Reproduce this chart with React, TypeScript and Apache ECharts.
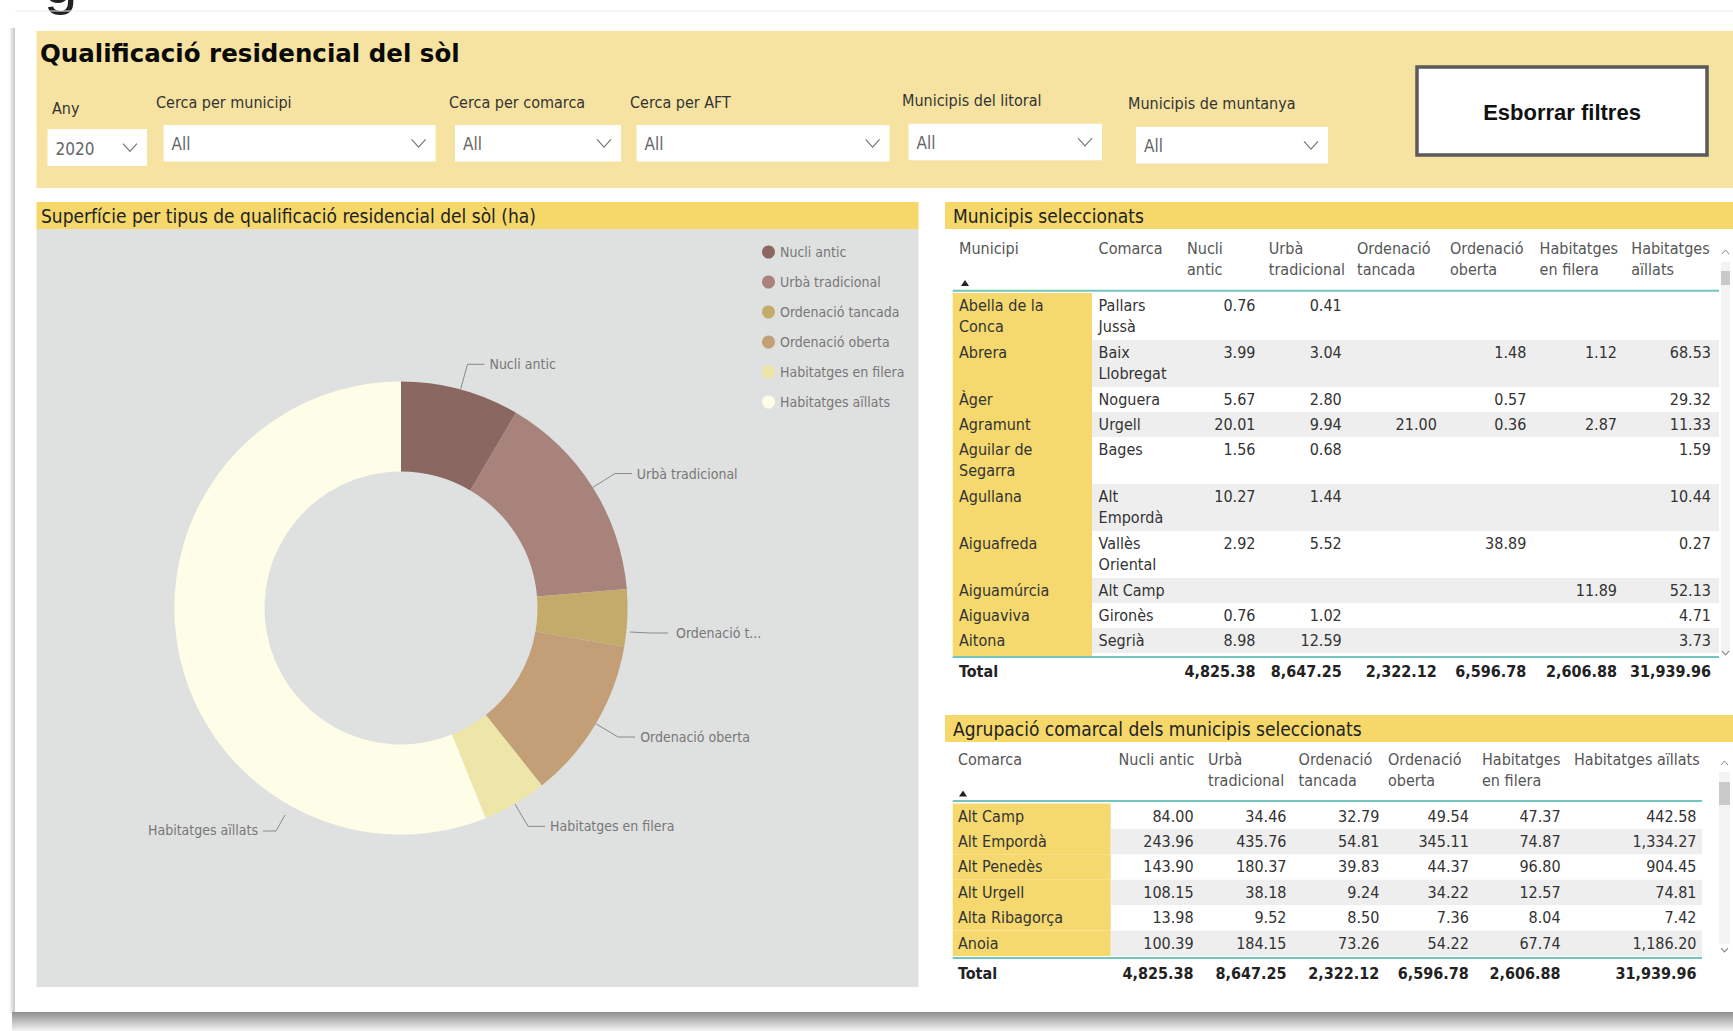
import React, { useEffect, useRef } from 'react';
import * as echarts from 'echarts';

// ---------------- DATA ----------------
const categories = ['Nucli antic', 'Urbà tradicional', 'Ordenació tancada', 'Ordenació oberta', 'Habitatges en filera', 'Habitatges aïllats'];
const totals = [4825.38, 8647.25, 2322.12, 6596.78, 2606.88, 31939.96];
const pieLabels = ['Nucli antic', 'Urbà tradicional', 'Ordenació t...', 'Ordenació oberta', 'Habitatges en filera', 'Habitatges aïllats'];
const sliceColors = ['#8A6861', '#A8837B', '#C4AB6B', '#C29F76', '#EEE5A8', '#FEFDE8'];

const municipis = ['Abella de la Conca', 'Abrera', 'Àger', 'Agramunt', 'Aguilar de Segarra', 'Agullana', 'Aiguafreda', 'Aiguamúrcia', 'Aiguaviva', 'Aitona'];
const municipiComarca = ['Pallars Jussà', 'Baix Llobregat', 'Noguera', 'Urgell', 'Bages', 'Alt Empordà', 'Vallès Oriental', 'Alt Camp', 'Gironès', 'Segrià'];
const munNucli = [0.76, 3.99, 5.67, 20.01, 1.56, 10.27, 2.92, null, 0.76, 8.98];
const munUrba = [0.41, 3.04, 2.80, 9.94, 0.68, 1.44, 5.52, null, 1.02, 12.59];
const munTancada = [null, null, null, 21.00, null, null, null, null, null, null];
const munOberta = [null, 1.48, 0.57, 0.36, null, null, 38.89, null, null, null];
const munFilera = [null, 1.12, null, 2.87, null, null, null, 11.89, null, null];
const munAillats = [null, 68.53, 29.32, 11.33, 1.59, 10.44, 0.27, 52.13, 4.71, 3.73];

const comarques = ['Alt Camp', 'Alt Empordà', 'Alt Penedès', 'Alt Urgell', 'Alta Ribagorça', 'Anoia'];
const comNucli = [84.00, 243.96, 143.90, 108.15, 13.98, 100.39];
const comUrba = [34.46, 435.76, 180.37, 38.18, 9.52, 184.15];
const comTancada = [32.79, 54.81, 39.83, 9.24, 8.50, 73.26];
const comOberta = [49.54, 345.11, 44.37, 34.22, 7.36, 54.22];
const comFilera = [47.37, 74.87, 96.80, 12.57, 8.04, 67.74];
const comAillats = [442.58, 1334.27, 904.45, 74.81, 7.42, 1186.20];

const filterLabels = ['Any', 'Cerca per municipi', 'Cerca per comarca', 'Cerca per AFT', 'Municipis del litoral', 'Municipis de muntanya'];
const filterValues = ['2020', 'All', 'All', 'All', 'All', 'All'];

const dashboardTitle = 'Qualificació residencial del sòl';
const buttonLabel = 'Esborrar filtres';
const pieTitle = 'Superfície per tipus de qualificació residencial del sòl (ha)';
const table1Title = 'Municipis seleccionats';
const table2Title = 'Agrupació comarcal dels municipis seleccionats';
const table1Heads = ['Municipi', 'Comarca'];
const table2Heads = ['Comarca'];
const totalLabel = 'Total';

// ---------------- STYLE ----------------
const FF = '"Liberation Sans Narrow","DejaVu Sans Condensed","Roboto Condensed",Roboto,sans-serif';
const FB = '"Liberation Sans",Arial,sans-serif';
const FH = '"DejaVu Sans",Verdana,sans-serif';
const HEADER_BG = '#F6E3A1';
const TITLE_BG = '#F5D869';
const FIRSTCOL = '#F5D96E';
const PANEL_GRAY = '#DFE1E0';
const ROW_GRAY = '#EEEEEE';
const TEAL = '#72C6BE';

const fmt = (v: number | null) =>
  v == null ? '' : v.toLocaleString('en-US', { minimumFractionDigits: 2, maximumFractionDigits: 2 });

let measureCtx: CanvasRenderingContext2D | null = null;
function wrap(t: string, maxW: number, size: number, weight = 'normal'): string[] {
  if (!measureCtx) measureCtx = document.createElement('canvas').getContext('2d');
  const ctx = measureCtx!;
  ctx.font = `${weight} ${size}px ${FF}`;
  const words = t.split(' ');
  const lines: string[] = [];
  let cur = '';
  for (const w of words) {
    const test = cur ? cur + ' ' + w : w;
    if (cur && ctx.measureText(test).width > maxW) {
      lines.push(cur);
      cur = w;
    } else cur = test;
  }
  if (cur) lines.push(cur);
  return lines;
}

const rect = (x: number, y: number, w: number, h: number, style: any) => ({
  type: 'rect', silent: true, shape: { x, y, width: w, height: h }, style,
});
const txt = (x: number, y: number, t: string, o: any = {}) => ({
  type: 'text', silent: true, x, y,
  style: {
    text: t, fill: o.fill || '#333', fontSize: o.size || 16, fontFamily: o.ff || FF,
    fontWeight: o.weight || 'normal', align: o.align || 'left', verticalAlign: o.va || 'middle',
  },
});
const ln = (x1: number, y1: number, x2: number, y2: number, stroke: string, lineWidth: number) => ({
  type: 'line', silent: true, shape: { x1, y1, x2, y2 }, style: { stroke, lineWidth },
});
const chevDown = (x: number, y: number, s = 7, c = '#777') => ({
  type: 'polyline', silent: true, shape: { points: [[x - s, y - s * 0.55], [x, y + s * 0.55], [x + s, y - s * 0.55]] },
  style: { stroke: c, lineWidth: 1.2, fill: 'none' },
});
const chevUp = (x: number, y: number, s = 3.5, c = '#888') => ({
  type: 'polyline', silent: true, shape: { points: [[x - s, y + s * 0.6], [x, y - s * 0.6], [x + s, y + s * 0.6]] },
  style: { stroke: c, lineWidth: 1, fill: 'none' },
});
const sortTri = (x: number, y: number) => ({
  type: 'polygon', silent: true, shape: { points: [[x - 4, y + 3], [x, y - 3], [x + 4, y + 3]] }, style: { fill: '#222' },
});

function buildGraphics() {
  const g: any[] = [];
  // page decorations
  g.push(txt(44, 12, 'g', { size: 60, ff: FB, fill: '#222', va: 'bottom' }));
  g.push(ln(15, 11, 1733, 11, '#EEEEEE', 1));
  g.push(rect(9, 28, 6, 985, { fill: new echarts.graphic.LinearGradient(0, 0, 1, 0, [{ offset: 0, color: '#ffffff' }, { offset: 1, color: '#C4C4C4' }]) }));
  g.push(rect(12, 1012, 1721, 19, { fill: new echarts.graphic.LinearGradient(0, 0, 0, 1, [{ offset: 0, color: '#8E8E8E' }, { offset: 1, color: '#F4F4F4' }]) }));

  // header band
  g.push(rect(36.5, 31, 1696.5, 157, { fill: HEADER_BG }));
  g.push(txt(40, 53, dashboardTitle, { size: 24.5, weight: 'bold', ff: FH, fill: '#0A0A0A' }));
  const F = [
    { lx: 52, ly: 108, bx: 47.5, by: 129, bw: 99.5, bh: 37 },
    { lx: 156, ly: 102, bx: 163.6, by: 125, bw: 272, bh: 36.5 },
    { lx: 449, ly: 102, bx: 455, by: 125, bw: 166, bh: 36.5 },
    { lx: 630, ly: 102, bx: 636.6, by: 125, bw: 253, bh: 36.5 },
    { lx: 902, ly: 100.6, bx: 908.5, by: 123.8, bw: 193.5, bh: 36.5 },
    { lx: 1128, ly: 103, bx: 1136, by: 127, bw: 192, bh: 36.5 },
  ];
  F.forEach((f, i) => {
    g.push(txt(f.lx, f.ly, filterLabels[i], { size: 16, fill: '#333' }));
    g.push(rect(f.bx, f.by, f.bw, f.bh, { fill: '#ffffff' }));
    g.push(txt(f.bx + 8, f.by + f.bh / 2 + 1, filterValues[i], { size: 17, fill: '#666' }));
    g.push(chevDown(f.bx + f.bw - 17, f.by + f.bh / 2, 7));
  });
  g.push(rect(1417, 67, 290, 88, { fill: '#ffffff', stroke: '#5A5A5A', lineWidth: 3.5 }));
  g.push(txt(1562, 112, buttonLabel, { size: 22, weight: 'bold', ff: FB, fill: '#111', align: 'center' }));

  // left panel
  g.push(rect(36.5, 202, 882, 27, { fill: TITLE_BG }));
  g.push(txt(41, 216, pieTitle, { size: 19, fill: '#222' }));
  g.push(rect(36.5, 229, 882, 758, { fill: PANEL_GRAY }));

  // ---------- table 1 ----------
  g.push(rect(945, 202, 788, 27, { fill: TITLE_BG }));
  g.push(txt(953, 216, table1Title, { size: 19, fill: '#222' }));
  const t1HeadX = [959, 1098.6, 1187, 1268.8, 1357, 1450, 1539.6, 1631.3];
  const t1Heads = [...table1Heads, ...categories];
  t1Heads.forEach((h, i) => {
    const lines = wrap(h, i === 0 ? 120 : 65, 16);
    lines.forEach((l, j) => g.push(txt(t1HeadX[i], 248 + j * 21, l, { size: 16, fill: '#555' })));
  });
  g.push(sortTri(965, 283));
  const t1Num = [munNucli, munUrba, munTancada, munOberta, munFilera, munAillats];
  const t1Right = [1255.5, 1341.7, 1436.8, 1526.3, 1617, 1711];
  let y = 293;
  const t1Bottom = 657;
  municipis.forEach((m, i) => {
    const l1 = wrap(m, 110, 16);
    const l2 = wrap(municipiComarca[i], 68, 16);
    const n = Math.max(l1.length, l2.length);
    const h = 25 + 22 * (n - 1);
    g.push(rect(952.7, y, 139.3, h, { fill: FIRSTCOL }));
    if (i % 2 === 1) g.push(rect(1092, y, 627, h, { fill: ROW_GRAY }));
    l1.forEach((l, j) => g.push(txt(959, y + 12 + 21 * j, l, { size: 16, fill: '#333' })));
    l2.forEach((l, j) => g.push(txt(1098.6, y + 12 + 21 * j, l, { size: 16, fill: '#333' })));
    t1Num.forEach((arr, k) => g.push(txt(t1Right[k], y + 12, fmt(arr[i]), { size: 16, fill: '#333', align: 'right' })));
    y += h;
  });
  if (y < t1Bottom) g.push(rect(952.7, y, 139.3, t1Bottom - y, { fill: FIRSTCOL }));
  g.push(ln(952.7, 290.7, 1719, 290.7, TEAL, 2));
  g.push(ln(952.7, t1Bottom, 1719, t1Bottom, TEAL, 2));
  g.push(txt(959, 671, totalLabel, { size: 16, weight: 'bold', fill: '#222' }));
  totals.forEach((v, k) => g.push(txt(t1Right[k], 671, fmt(v), { size: 16, weight: 'bold', fill: '#222', align: 'right' })));
  g.push(rect(1721, 262, 9, 390, { fill: '#F3F3F3' }));
  g.push(rect(1721, 271, 9, 14, { fill: '#C9C9C9' }));
  g.push(chevUp(1725.5, 252));
  g.push(chevDown(1725.5, 653, 3.5, '#888'));

  // ---------- table 2 ----------
  g.push(rect(945, 715, 788, 27, { fill: TITLE_BG }));
  g.push(txt(953, 729, table2Title, { size: 19, fill: '#222' }));
  const t2HeadX = [958, 1118.5, 1208, 1298.6, 1388, 1482, 1574];
  const t2Heads = [...table2Heads, ...categories];
  const t2HeadW = [150, 90, 80, 80, 80, 80, 150];
  t2Heads.forEach((h, i) => {
    const lines = wrap(h, t2HeadW[i], 16);
    lines.forEach((l, j) => g.push(txt(t2HeadX[i], 759 + j * 21, l, { size: 16, fill: '#555' })));
  });
  g.push(sortTri(963, 793.5));
  const t2Num = [comNucli, comUrba, comTancada, comOberta, comFilera, comAillats];
  const t2Right = [1193.6, 1286.5, 1379.3, 1468.8, 1560.6, 1696.5];
  let y2 = 803.5;
  comarques.forEach((c, i) => {
    const h = 25.4;
    g.push(rect(952.7, y2, 158, h, { fill: FIRSTCOL }));
    if (i % 2 === 1) g.push(rect(1110.7, y2, 591.3, h, { fill: ROW_GRAY }));
    g.push(txt(958, y2 + 12.5, c, { size: 16, fill: '#333' }));
    t2Num.forEach((arr, k) => g.push(txt(t2Right[k], y2 + 12.5, fmt(arr[i]), { size: 16, fill: '#333', align: 'right' })));
    y2 += h;
  });
  g.push(ln(952.7, 801, 1702, 801, TEAL, 2));
  g.push(ln(952.7, 958, 1702, 958, TEAL, 2));
  g.push(txt(958, 973, totalLabel, { size: 16, weight: 'bold', fill: '#222' }));
  totals.forEach((v, k) => g.push(txt(t2Right[k], 973, fmt(v), { size: 16, weight: 'bold', fill: '#222', align: 'right' })));
  g.push(rect(1719, 772, 11, 172, { fill: '#F3F3F3' }));
  g.push(rect(1719, 782, 11, 23, { fill: '#C9C9C9' }));
  g.push(chevUp(1724.5, 763));
  g.push(chevDown(1724.5, 950, 3.5, '#888'));
  return g;
}

export default function App() {
  const ref = useRef<HTMLDivElement>(null);
  useEffect(() => {
    if (!ref.current) return;
    const chart = echarts.init(ref.current, undefined, { renderer: 'svg' });
    chart.setOption({
      animation: false,
      backgroundColor: '#ffffff',
      graphic: { elements: buildGraphics() },
      legend: {
        orient: 'vertical',
        left: 757,
        top: 240,
        icon: 'circle',
        itemWidth: 13,
        itemHeight: 13,
        itemGap: 16,
        selectedMode: false,
        data: categories,
        textStyle: { color: '#777', fontSize: 14, fontFamily: FF },
      },
      series: [
        {
          type: 'pie',
          center: [401, 608],
          radius: [136.5, 226.6],
          startAngle: 90,
          clockwise: true,
          silent: true,
          avoidLabelOverlap: false,
          emphasis: { disabled: true },
          data: categories.map((n, i) => ({ name: n, value: totals[i], itemStyle: { color: sliceColors[i] } })),
          label: {
            formatter: (p: any) => pieLabels[p.dataIndex],
            color: '#777',
            fontSize: 14,
            fontFamily: FF,
          },
          labelLine: { length: 26, length2: 17, lineStyle: { color: '#888', width: 1 } },
          labelLayout: (p: any) => {
            if (p.dataIndex === 5) {
              return {
                x: 258, y: 830, align: 'right', verticalAlign: 'middle',
                labelLinePoints: [[285, 815], [276, 831], [263, 831]],
              };
            }
            if (p.dataIndex === 2) {
              return {
                x: 676, y: 633, align: 'left', verticalAlign: 'middle',
                labelLinePoints: [[630, 632], [650, 633], [668, 633]],
              };
            }
            return {};
          },
        },
      ],
    });
    return () => chart.dispose();
  }, []);
  return <div ref={ref} style={{ position: 'absolute', left: 0, top: 0, width: 1733, height: 1031 }} />;
}
